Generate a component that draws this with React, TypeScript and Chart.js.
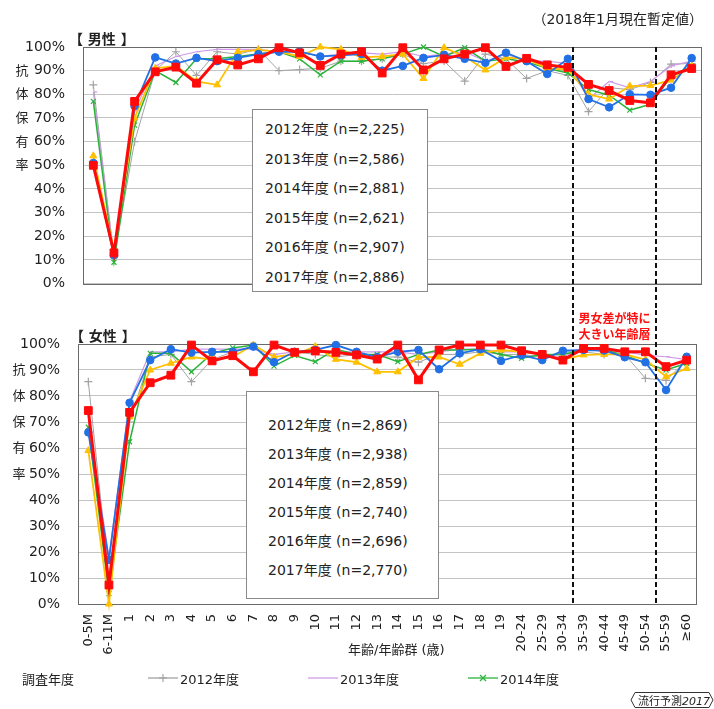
import React, { useEffect, useRef } from 'react';
import { Chart, registerables } from 'chart.js';

Chart.register(...registerables);

// ---------- data ----------
const categories = [
  '0-5M', '6-11M', '1', '2', '3', '4', '5', '6', '7', '8', '9', '10', '11', '12', '13', '14', '15',
  '16', '17', '18', '19', '20-24', '25-29', '30-34', '35-39', '40-44', '45-49', '50-54', '55-59', '≥60',
];
const yearLabels = ['2012年度', '2013年度', '2014年度', '2015年度', '2016年度', '2017年度'];
const maleSampleSizes = ['2,225', '2,586', '2,881', '2,621', '2,907', '2,886'];
const femaleSampleSizes = ['2,869', '2,938', '2,859', '2,740', '2,696', '2,770'];
const legendYears = ['2012年度', '2013年度', '2014年度'];

const male2012 = [84, 11, 60, 90, 98, 88, 98, 97, 99, 90, 90.5, 91, 94, 94, 95, 97, 93, 94, 85.6, 97, 95, 86.7, 90, 88, 72.7, 82.8, 82, 85, 92.8, 93];
const male2013 = [81, 12, 73, 92, 96, 98, 99, 99, 99, 98, 98, 96, 97, 97.5, 97, 98, 96, 97, 98, 94, 97, 94, 94, 93, 78, 85.4, 82.7, 85.4, 92, 94];
const male2014 = [77, 9, 67, 90, 85, 95, 95, 96, 97, 98, 95, 88.2, 94, 94, 95, 97, 100, 96, 99.7, 94, 95, 93.7, 91, 89, 82, 79.6, 73.3, 75.8, 87.5, 92];
const male2015 = [54, 14, 70, 91, 92, 85.5, 84, 98, 98.8, 98, 96, 100, 99, 95.6, 96, 97, 86.7, 99.7, 96, 90.3, 95.5, 95, 91, 90.5, 80, 78, 83.5, 83.7, 86, 92];
const male2016 = [51, 12, 75, 95.6, 93, 95.4, 94, 95.4, 97, 98, 98, 96, 96.5, 97, 90, 92, 95.4, 96.7, 95, 93.3, 97.6, 94, 88.6, 95, 78, 74.5, 80, 79.8, 82.8, 95.3];
const male2017 = [50, 13, 77, 89.5, 91.5, 84.7, 94.6, 92.4, 95, 99.7, 97.5, 92.2, 97, 98, 89, 99.7, 90.3, 95, 97, 99.7, 91.8, 95.2, 92.4, 91.4, 84.2, 81.6, 77.4, 76.4, 88.2, 90.9];

const female2012 = [85.5, 10, 70, 95, 96, 85.5, 94, 97, 99, 93, 97, 96, 95, 96, 95, 95, 93, 96, 96, 97, 96, 96, 95, 96.8, 97, 96, 96, 86.8, 86, 93.8];
const female2013 = [70, 18, 78, 97, 97, 98, 98, 98, 98, 96, 97, 97, 97, 97, 97, 97, 96, 97, 98, 98, 97, 97, 96, 95, 98.3, 97, 97, 95.7, 95.1, 94];
const female2014 = [68, 4, 62.4, 96.4, 96.4, 89.3, 96.4, 98.5, 99.6, 91.5, 95.6, 93.2, 98, 96, 96, 93.2, 96, 97.7, 97.7, 98, 96, 94.5, 96, 96, 97.7, 97.7, 95.7, 92.6, 90, 92.6];
const female2015 = [59, 0, 72, 90, 92.6, 95, 94, 95, 99.6, 95, 96, 99, 94.1, 93, 89.3, 89.3, 94.9, 95, 92.2, 96.4, 97.7, 97, 96, 94, 95.8, 96, 96, 94, 87.4, 90.6];
const female2016 = [66, 17, 77.4, 93.8, 98, 96.7, 97, 97, 99, 93, 97, 97.7, 99.6, 97, 95, 97, 97.7, 90.3, 96.4, 98, 93.5, 95.7, 93.8, 97.4, 97.7, 97.5, 94.9, 93, 82.3, 95.1];
const female2017 = [74.4, 7.3, 73.7, 85.1, 88, 99.6, 93.5, 95.5, 89.3, 99.6, 96.8, 97.3, 96.8, 95.8, 94.2, 99.6, 86.2, 97.7, 99.6, 99.6, 99.6, 97.4, 96, 93.8, 98.3, 98.3, 97, 97, 91.3, 93.8];

const maleSeries = [male2012, male2013, male2014, male2015, male2016, male2017];
const femaleSeries = [female2012, female2013, female2014, female2015, female2016, female2017];

// ---------- styles ----------
const FONT = "'DejaVu Sans', 'Noto Sans CJK JP', sans-serif";
const CJK = "'Noto Sans CJK JP', 'DejaVu Sans', sans-serif";
const seriesColors = ['#a3a3a3', '#cf9be8', '#2ab33a', '#ffc000', '#2270e6', '#ff0a0a'];
const seriesPointStyles = ['cross', 'dash', 'crossRot', 'triangle', 'circle', 'rect'];
const seriesPointRadius = [4, 4, 3.5, 4, 3.8, 5.5];
const seriesLineWidths = [1, 1.2, 1.5, 1.8, 1.8, 3];
const seriesOrder = [5, 4, 3, 2, 1, 0];
const axisTitleChars = ['抗', '体', '保', '有', '率'];

function buildDatasets(series: number[][]) {
  return series.map((values, i) => ({
    label: yearLabels[i],
    data: values,
    borderColor: seriesColors[i],
    backgroundColor: seriesColors[i],
    pointBorderColor: seriesColors[i],
    pointBackgroundColor: seriesColors[i],
    borderWidth: seriesLineWidths[i],
    pointStyle: seriesPointStyles[i],
    pointRadius: seriesPointRadius[i],
    pointBorderWidth: i < 3 ? 1.2 : 1,
    tension: 0,
    order: seriesOrder[i],
    clip: false as any,
  }));
}

type PanelCfg = {
  plotLeft: number;
  plotRight: number;
  plotTop: number;
  xAxisHeight: number;
  showX: boolean;
  titleX: number;
  dividers: number[];
  dashFromTop: boolean; // female: dash from canvas top to plot bottom
  redNote: boolean;
};

function makeConfig(series: number[][], cfg: PanelCfg, width: number): any {
  const decor = {
    id: 'decor',
    beforeDatasetsDraw(chart: any) {
      const { ctx, chartArea } = chart;
      ctx.save();
      ctx.strokeStyle = '#6a6a6a';
      ctx.lineWidth = 1;
      ctx.strokeRect(
        Math.round(chartArea.left) + 0.5,
        Math.round(chartArea.top) + 0.5,
        Math.round(chartArea.right - chartArea.left) - 1,
        Math.round(chartArea.bottom - chartArea.top)
      );
      ctx.restore();
    },
    afterDatasetsDraw(chart: any) {
      const { ctx, chartArea, scales } = chart;
      const x = scales.x;
      const y = scales.y;
      ctx.save();
      // vertical axis title
      ctx.fillStyle = '#222';
      ctx.font = `13px ${CJK}`;
      ctx.textAlign = 'center';
      ctx.textBaseline = 'middle';
      axisTitleChars.forEach((ch, i) => {
        ctx.fillText(ch, cfg.titleX, y.getPixelForValue(90 - 10 * i) - 1);
      });
      // dashed dividers
      ctx.setLineDash([5, 3]);
      ctx.lineWidth = 2;
      ctx.strokeStyle = '#111';
      const pxs: number[] = [];
      cfg.dividers.forEach((v) => {
        const px = Math.round(x.getPixelForValue(v));
        pxs.push(px);
        ctx.beginPath();
        if (cfg.dashFromTop) {
          ctx.moveTo(px, 0);
          ctx.lineTo(px, chartArea.bottom);
        } else {
          ctx.moveTo(px, chartArea.top);
          ctx.lineTo(px, chart.height);
        }
        ctx.stroke();
      });
      ctx.setLineDash([]);
      if (cfg.redNote && pxs.length === 2) {
        const cx = (pxs[0] + pxs[1]) / 2;
        ctx.fillStyle = '#ff1010';
        ctx.font = `bold 12px ${CJK}`;
        ctx.textAlign = 'center';
        ctx.textBaseline = 'middle';
        ctx.fillText('男女差が特に', cx, 8);
        ctx.fillText('大きい年齢層', cx, 24);
      }
      ctx.restore();
    },
  };

  return {
    type: 'line',
    data: { labels: categories, datasets: buildDatasets(series) },
    plugins: [decor],
    options: {
      animation: false,
      responsive: false,
      maintainAspectRatio: false,
      events: [],
      layout: { padding: { top: cfg.plotTop, right: width - cfg.plotRight, bottom: 0, left: 0 } },
      plugins: { legend: { display: false }, tooltip: { enabled: false }, title: { display: false } },
      scales: {
        x: {
          type: 'category',
          offset: true,
          grid: { display: false, drawTicks: false },
          border: { display: false },
          ticks: {
            display: cfg.showX,
            autoSkip: false,
            minRotation: 90,
            maxRotation: 90,
            padding: 10,
            color: '#222',
            font: { family: FONT, size: 13 },
          },
          afterFit: (s: any) => {
            s.height = cfg.xAxisHeight;
          },
        },
        y: {
          min: 0,
          max: 100,
          ticks: {
            stepSize: 10,
            padding: 18,
            color: '#222',
            font: { family: FONT, size: 14 },
            callback: (v: any) => `${v}%`,
          },
          grid: { color: '#c4c4c4', drawTicks: false, lineWidth: 1 },
          border: { display: false },
          afterFit: (s: any) => {
            s.width = cfg.plotLeft;
          },
        },
      },
    },
  };
}

function SampleBox(props: { left: number; top: number; width: number; height: number; textLeft: number; firstY: number; step: number; sizes: string[] }) {
  const { left, top, width, height, textLeft, firstY, step, sizes } = props;
  return (
    <div
      style={{
        position: 'absolute',
        left,
        top,
        width,
        height,
        boxSizing: 'border-box',
        border: '1px solid #8a8a8a',
        background: '#fff',
      }}
    >
      {yearLabels.map((yl, i) => (
        <div
          key={yl}
          style={{
            position: 'absolute',
            left: textLeft,
            top: firstY + step * i - 10,
            height: 20,
            lineHeight: '20px',
            fontSize: 14,
            whiteSpace: 'nowrap',
            color: '#222',
          }}
        >
          {`${yl} (n=${sizes[i]})`}
        </div>
      ))}
    </div>
  );
}

function LegendMark(props: { color: string; kind: string }) {
  const { color, kind } = props;
  return (
    <svg width={30} height={12} style={{ display: 'block' }}>
      <line x1={0} y1={6} x2={30} y2={6} stroke={color} strokeWidth={1.3} />
      {kind === 'cross' && (
        <g stroke={color} strokeWidth={1.2}>
          <line x1={15} y1={2} x2={15} y2={10} />
          <line x1={11} y1={6} x2={19} y2={6} />
        </g>
      )}
      {kind === 'crossRot' && (
        <g stroke={color} strokeWidth={1.2}>
          <line x1={12} y1={3} x2={18} y2={9} />
          <line x1={12} y1={9} x2={18} y2={3} />
        </g>
      )}
    </svg>
  );
}

export default function App() {
  const maleRef = useRef<HTMLCanvasElement>(null);
  const femaleRef = useRef<HTMLCanvasElement>(null);

  useEffect(() => {
    const male = new Chart(
      maleRef.current as HTMLCanvasElement,
      makeConfig(
        maleSeries,
        {
          plotLeft: 83,
          plotRight: 702,
          plotTop: 47,
          xAxisHeight: 3,
          showX: false,
          titleX: 22,
          dividers: [23.25, 27.25],
          dashFromTop: false,
          redNote: false,
        },
        714
      )
    );
    const female = new Chart(
      femaleRef.current as HTMLCanvasElement,
      makeConfig(
        femaleSeries,
        {
          plotLeft: 78,
          plotRight: 697,
          plotTop: 34,
          xAxisHeight: 105,
          showX: true,
          titleX: 19,
          dividers: [23.5, 27.5],
          dashFromTop: true,
          redNote: true,
        },
        714
      )
    );
    return () => {
      male.destroy();
      female.destroy();
    };
  }, []);

  const legendXs = [148, 308, 468];
  const legendKinds = ['cross', 'dash', 'crossRot'];

  return (
    <div
      style={{
        position: 'absolute',
        left: 0,
        top: 0,
        width: 714,
        height: 709,
        background: '#fff',
        fontFamily: FONT,
        color: '#222',
        overflow: 'hidden',
      }}
    >
      <canvas ref={maleRef} width={714} height={310} style={{ position: 'absolute', left: 0, top: 0, display: 'block' }} />
      <canvas ref={femaleRef} width={714} height={399} style={{ position: 'absolute', left: 0, top: 310, display: 'block' }} />

      <div style={{ position: 'absolute', right: 11, top: 8, fontSize: 14, whiteSpace: 'nowrap' }}>（2018年1月現在暫定値）</div>
      <div style={{ position: 'absolute', left: 69, top: 28, fontSize: 14, fontWeight: 'bold', whiteSpace: 'nowrap' }}>【 男性 】</div>
      <div style={{ position: 'absolute', left: 70, top: 325, fontSize: 14, fontWeight: 'bold', whiteSpace: 'nowrap' }}>【 女性 】</div>

      <SampleBox left={252} top={109} width={176} height={183} textLeft={12} firstY={19} step={29.6} sizes={maleSampleSizes} />
      <SampleBox left={246} top={391} width={193} height={208} textLeft={21} firstY={33} step={29} sizes={femaleSampleSizes} />

      <div style={{ position: 'absolute', left: 348, top: 639, fontSize: 13, whiteSpace: 'nowrap' }}>年齢/年齢群 (歳)</div>

      <div style={{ position: 'absolute', left: 22, top: 669, fontSize: 13, whiteSpace: 'nowrap' }}>調査年度</div>
      {legendYears.map((yl, i) => (
        <div
          key={yl}
          style={{ position: 'absolute', left: legendXs[i], top: 669, display: 'flex', alignItems: 'center', fontSize: 13, whiteSpace: 'nowrap', height: 18 }}
        >
          <LegendMark color={seriesColors[i]} kind={legendKinds[i]} />
          <span style={{ marginLeft: 2 }}>{yl}</span>
        </div>
      ))}

      <svg width={84} height={18} style={{ position: 'absolute', left: 630, top: 691 }}>
        <polygon points="5,1.5 79,1.5 83,9 79,16.5 5,16.5 1,9" fill="#fff" stroke="#333" strokeWidth={1} />
        <text x={8} y={13.5} fontSize={11} fontFamily={CJK} fill="#222">
          流行予測
          <tspan fontStyle="italic" fontFamily={FONT}>2017</tspan>
        </text>
      </svg>
    </div>
  );
}
